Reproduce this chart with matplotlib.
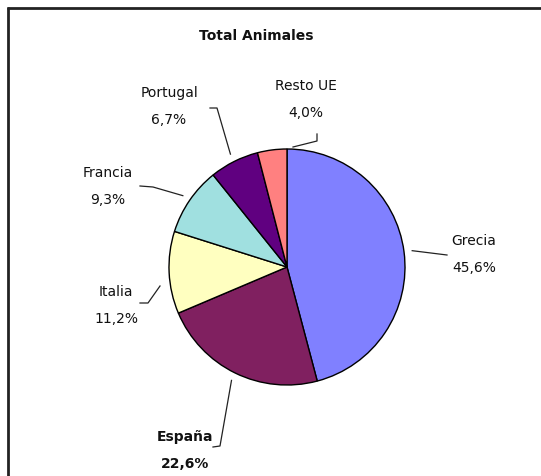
import numpy as np
import matplotlib
matplotlib.use("Agg")
import matplotlib.pyplot as plt

# data (clockwise from 12 o'clock)
paises = ["Grecia", "España", "Italia", "Francia", "Portugal", "Resto UE"]
porcentajes = [45.6, 22.6, 11.2, 9.3, 6.7, 4.0]
colores = ["#8080FF", "#802060", "#FFFFC0", "#A0E0E0", "#600080", "#FF8080"]
titulo = "Total Animales"

# layout, in pixels from top-left of the 541x477 image
W, H = 541, 477
centro = (287, 268)
radio = 118
etiquetas_xy = [(474, 241), (185, 437), (116, 292), (108, 173), (169, 93), (306, 86)]
# leader start (None -> from wedge mid-angle) and the bent points toward the label
inicio_guia = [None, None, (160, 287), None, None, (293, 148)]
lineas_guia = [
    [(447, 256)],
    [(220, 447), (213, 448)],
    [(148, 304), (140, 304)],
    [(153, 188), (140, 187)],
    [(217, 109), (210, 109)],
    [(317, 142), (317, 135)],
]
negrita = [False, True, False, False, False, False]


def fy(y):
    return H - y


fig = plt.figure(figsize=(W / 100, H / 100), dpi=100)
ax = fig.add_axes([0, 0, 1, 1])

wedges, _ = ax.pie(
    porcentajes,
    colors=colores,
    startangle=90,
    counterclock=False,
    center=(centro[0], fy(centro[1])),
    radius=radio,
    frame=True,
    wedgeprops=dict(edgecolor="black", linewidth=1.0),
)
ax.set_xlim(0, W)
ax.set_ylim(0, H)
ax.set_aspect("equal")
ax.axis("off")

# outer chart border (left and top only visible)
ax.plot([7.5, 7.5], [fy(8), 0], color="#222222", lw=2, solid_capstyle="butt")
ax.plot([7, W], [fy(8.5), fy(8.5)], color="#222222", lw=2, solid_capstyle="butt")

ax.text(256, fy(36), titulo, ha="center", va="center", fontsize=10,
        fontweight="bold", color="#111111")

for w, nombre, pct, (lx, ly), ini, guia, bold in zip(
        wedges, paises, porcentajes, etiquetas_xy, inicio_guia, lineas_guia, negrita):
    if ini is None:
        ang = np.deg2rad((w.theta1 + w.theta2) / 2)
        x0 = w.center[0] + radio * 1.07 * np.cos(ang)
        y0 = w.center[1] + radio * 1.07 * np.sin(ang)
    else:
        x0, y0 = ini[0], fy(ini[1])
    xs = [x0] + [p[0] for p in guia]
    ys = [y0] + [fy(p[1]) for p in guia]
    ax.plot(xs, ys, color="#222222", lw=0.9)
    peso = "bold" if bold else "normal"
    ax.text(lx, fy(ly), nombre, ha="center", va="center", fontsize=10,
            fontweight=peso, color="#111111")
    ax.text(lx, fy(ly + 27), f"{pct:.1f}%".replace(".", ","), ha="center",
            va="center", fontsize=10, fontweight=peso, color="#111111")

fig.savefig("out.png", dpi=100, facecolor="white")
